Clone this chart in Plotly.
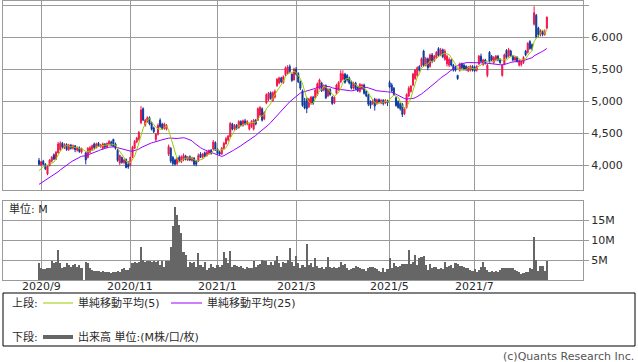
import plotly.graph_objects as go
import pandas as pd

# ---------------- data ----------------
# trading-day index 0..239 (2020/8/31 .. 2021/8/23); idx 21 = 2020/10/1 (no trading)
tick_idx = [1, 43, 84, 121, 165, 205]
tick_labels = ["2020/9", "2020/11", "2021/1", "2021/3", "2021/5", "2021/7"]

# closes before the visible window (only feed the moving averages)
pre_close = [3500, 3520, 3540, 3510, 3550, 3570, 3560, 3590, 3580, 3600, 3620,
             3650, 3680, 3720, 3700, 3760, 3790, 3800, 3830, 3820,
             3850, 3880, 3900, 3910]

ohlc = [
    (4070, 4110, 3990, 4010), (4000, 4060, 3980, 4050), (4060, 4080, 4000, 4010), (4010, 4030, 3920, 3940),
    (3860, 4000, 3840, 3990), (3990, 4090, 3980, 4080), (4060, 4140, 4040, 4120), (4160, 4180, 4080, 4090),
    (4090, 4220, 4080, 4200), (4190, 4360, 4180, 4330), (4240, 4370, 4220, 4340), (4340, 4360, 4250, 4280),
    (4270, 4340, 4250, 4320), (4320, 4340, 4220, 4240), (4240, 4330, 4220, 4310), (4310, 4330, 4240, 4260),
    (4260, 4320, 4240, 4300), (4300, 4310, 4200, 4240), (4230, 4290, 4210, 4270), (4270, 4290, 4190, 4210),
    (4200, 4270, 4180, 4260), (None, None, None, None), (4190, 4200, 4010, 4080), (4120, 4280, 4100, 4260),
    (4200, 4300, 4180, 4270), (4240, 4320, 4220, 4300), (4330, 4350, 4250, 4270), (4270, 4350, 4260, 4330),
    (4340, 4360, 4280, 4290), (4290, 4330, 4270, 4310), (4260, 4350, 4240, 4330), (4330, 4340, 4260, 4280),
    (4280, 4350, 4270, 4340), (4320, 4390, 4300, 4370), (4360, 4380, 4300, 4310), (4400, 4410, 4280, 4290),
    (4330, 4350, 4240, 4260), (4230, 4250, 4050, 4070), (4030, 4160, 4000, 4150), (4120, 4130, 4020, 4040),
    (4040, 4100, 4010, 4080), (4090, 4100, 3950, 3960), (4010, 4060, 3940, 3970), (3990, 4130, 3980, 4120),
    (4130, 4300, 4110, 4280), (4260, 4390, 4250, 4370), (4360, 4440, 4340, 4420), (4400, 4530, 4380, 4510),
    (4660, 4920, 4640, 4860), (4880, 4900, 4690, 4700), (4620, 4720, 4600, 4700), (4680, 4760, 4660, 4740),
    (4740, 4760, 4620, 4640), (4660, 4680, 4540, 4560), (4580, 4600, 4500, 4520), (4400, 4500, 4370, 4480),
    (4480, 4650, 4460, 4620), (4700, 4730, 4580, 4600), (4640, 4660, 4550, 4570), (4570, 4660, 4550, 4640),
    (4560, 4640, 4540, 4620), (4170, 4320, 4140, 4290), (4260, 4280, 4030, 4060), (4120, 4140, 3990, 4020),
    (4080, 4100, 3990, 4010), (4020, 4120, 4000, 4100), (4120, 4150, 4040, 4060), (4050, 4150, 4030, 4130),
    (4080, 4180, 4060, 4150), (4140, 4160, 4070, 4090), (4080, 4140, 4060, 4120), (4130, 4150, 4060, 4080),
    (4070, 4130, 4050, 4110), (4110, 4120, 3990, 4010), (4060, 4080, 3980, 4010), (4060, 4180, 4050, 4150),
    (4170, 4200, 4110, 4120), (4120, 4190, 4100, 4170), (4190, 4210, 4120, 4140), (4150, 4220, 4130, 4200),
    (4180, 4240, 4160, 4230), (4230, 4250, 4160, 4180), (4250, 4390, 4230, 4360), (4350, 4370, 4220, 4240),
    (4250, 4260, 4160, 4180), (4200, 4220, 4150, 4170), (4170, 4280, 4160, 4260), (4260, 4360, 4240, 4340),
    (4330, 4440, 4320, 4410), (4390, 4470, 4370, 4450), (4440, 4670, 4430, 4650), (4640, 4660, 4540, 4560),
    (4560, 4640, 4540, 4620), (4620, 4640, 4550, 4570), (4580, 4700, 4570, 4680), (4680, 4700, 4600, 4620),
    (4620, 4710, 4600, 4690), (4690, 4720, 4620, 4640), (4640, 4700, 4620, 4680), (4560, 4660, 4540, 4640),
    (4600, 4700, 4580, 4680), (4560, 4720, 4540, 4700), (4700, 4720, 4620, 4640), (4700, 4900, 4690, 4880),
    (4780, 4920, 4760, 4900), (4880, 4900, 4680, 4700), (4720, 4840, 4700, 4820), (4970, 5120, 4950, 5100),
    (5020, 5140, 5000, 5120), (5130, 5150, 5020, 5040), (5000, 5150, 4990, 5130), (5060, 5180, 5040, 5150),
    (5240, 5360, 5220, 5340), (5280, 5380, 5260, 5360), (5360, 5380, 5280, 5300), (5290, 5400, 5270, 5380),
    (5410, 5540, 5390, 5520), (5430, 5560, 5420, 5530), (5540, 5570, 5440, 5460), (5420, 5430, 5300, 5320),
    (5330, 5520, 5320, 5500), (5500, 5530, 5400, 5420), (5430, 5450, 5280, 5300), (5300, 5320, 5170, 5200),
    (5160, 5180, 4910, 4930), (4990, 5050, 4870, 4890), (5040, 5060, 4810, 4880), (4910, 5050, 4890, 5030),
    (4960, 5080, 4940, 5060), (5060, 5080, 4940, 4960), (5050, 5190, 5030, 5170), (5100, 5290, 5080, 5270),
    (5200, 5350, 5180, 5330), (5280, 5300, 5140, 5160), (5170, 5260, 5150, 5240), (5240, 5260, 5030, 5050),
    (5080, 5200, 5060, 5180), (5180, 5200, 5080, 5100), (5060, 5080, 4940, 4960), (4970, 5080, 4950, 5060),
    (5120, 5270, 5100, 5250), (5180, 5310, 5160, 5290), (5300, 5480, 5280, 5430), (5340, 5480, 5320, 5420),
    (5420, 5440, 5270, 5290), (5400, 5420, 5300, 5330), (5360, 5380, 5260, 5280), (5300, 5320, 5180, 5200),
    (5200, 5300, 5180, 5280), (5280, 5300, 5170, 5190), (5220, 5240, 5140, 5160), (5150, 5280, 5130, 5260),
    (5190, 5270, 5170, 5250), (5250, 5270, 5100, 5120), (5150, 5170, 5060, 5080), (5090, 5110, 4920, 4950),
    (4990, 5010, 4880, 4930), (4960, 5030, 4940, 5000), (5030, 5050, 4850, 4920), (4960, 5040, 4940, 5020),
    (5020, 5040, 4960, 4980), (4970, 5030, 4950, 5010), (5010, 5030, 4930, 4960), (4970, 5030, 4950, 5010),
    (5000, 5020, 4920, 4970), (5290, 5320, 5200, 5220), (5250, 5280, 5140, 5160), (5200, 5220, 5080, 5100),
    (5050, 5070, 4910, 4930), (4990, 5010, 4880, 4900), (4960, 4980, 4850, 4880), (4950, 4970, 4750, 4790),
    (4800, 4900, 4780, 4880), (4900, 5120, 4880, 5100), (5080, 5230, 5060, 5200), (5150, 5250, 5130, 5230),
    (5250, 5440, 5230, 5420), (5350, 5500, 5330, 5480), (5400, 5540, 5380, 5520), (5540, 5560, 5460, 5480),
    (5550, 5680, 5530, 5660), (5780, 5800, 5530, 5560), (5560, 5690, 5540, 5660), (5660, 5680, 5480, 5520),
    (5540, 5740, 5520, 5720), (5720, 5750, 5590, 5620), (5630, 5720, 5610, 5700), (5680, 5780, 5660, 5760),
    (5820, 5840, 5690, 5710), (5720, 5830, 5700, 5800), (5800, 5820, 5670, 5690), (5650, 5810, 5630, 5780),
    (5580, 5720, 5540, 5700), (5560, 5680, 5530, 5650), (5640, 5660, 5540, 5560), (5560, 5580, 5460, 5480),
    (5530, 5550, 5460, 5480), (5400, 5410, 5330, 5350), (5480, 5600, 5460, 5580), (5580, 5600, 5500, 5520),
    (5560, 5580, 5480, 5500), (5540, 5560, 5470, 5490), (5470, 5550, 5450, 5530), (5480, 5560, 5460, 5540),
    (5540, 5560, 5460, 5480), (5530, 5550, 5450, 5470), (5480, 5560, 5460, 5540), (5580, 5720, 5560, 5700),
    (5700, 5740, 5600, 5620), (5570, 5660, 5550, 5640), (5640, 5660, 5570, 5590), (5400, 5580, 5370, 5560),
    (5760, 5780, 5600, 5620), (5700, 5720, 5620, 5640), (5600, 5700, 5580, 5680), (5640, 5720, 5620, 5700),
    (5700, 5720, 5620, 5640), (5650, 5670, 5580, 5600), (5400, 5580, 5380, 5560), (5580, 5740, 5560, 5720),
    (5790, 5810, 5660, 5680), (5700, 5830, 5680, 5800), (5780, 5800, 5690, 5710), (5700, 5720, 5620, 5640),
    (5640, 5700, 5620, 5680), (5680, 5700, 5600, 5620), (5560, 5650, 5540, 5630), (5570, 5640, 5540, 5620),
    (5600, 5700, 5580, 5680), (5780, 5800, 5700, 5720), (5760, 5920, 5740, 5900), (5930, 5950, 5800, 5820),
    (5880, 5900, 5790, 5820), (6200, 6480, 6180, 6380), (6340, 6360, 5980, 6000), (6140, 6160, 6000, 6040),
    (6040, 6120, 6010, 6100), (6090, 6110, 6010, 6040), (6040, 6120, 6020, 6080), (6140, 6320, 6120, 6310),
]
open_ = [r[0] for r in ohlc]
high = [r[1] for r in ohlc]
low = [r[2] for r in ohlc]
close = [r[3] for r in ohlc]

# volume (millions)
volume = [
    4.3, 2.9, 2.8, 2.75, 2.9, 2.9, 4.75, 4.2, 4.6, 7.5, 4.2, 2.9, 3.3, 4.2, 3.75, 3.3, 3.75, 4.0, 3.3, 3.75,
    2.9, None, 4.5, 4.3, 2.9, 2.5, 2.3, 2.3, 2.2, 2.1, 2.25, 2.1, 2.0, 1.9, 1.8, 1.9, 2.0, 2.2, 2.1, 2.7,
    2.9, 2.5, 2.5, 2.9, 4.2, 4.6, 4.2, 4.6, 8.2, 5.0, 4.6, 4.75, 4.75, 4.6, 4.75, 4.6, 4.75, 3.75, 4.75, 3.3,
    4.8, 4.8, 8.3, 13.5, 18.3, 16.25, 13.75, 11.7, 7.1, 6.25, 3.3, 4.6, 4.2, 4.6, 3.3, 6.8, 3.75, 3.3, 4.6, 2.5,
    2.9, 3.9, 3.3, 2.9, 3.75, 3.3, 3.75, 6.9, 5.4, 4.2, 7.25, 3.3, 3.75, 3.6, 3.3, 3.5, 2.9, 2.7, 3.3, 2.9,
    2.9, 4.75, 3.3, 3.75, 3.9, 5.0, 4.75, 4.75, 3.75, 4.6, 3.75, 4.8, 6.0, 4.2, 3.3, 4.6, 4.2, 5.0, 7.9, 4.6,
    3.5, 6.1, 4.2, 3.1, 3.75, 3.3, 9.0, 3.75, 4.2, 3.3, 5.4, 3.6, 3.1, 3.3, 2.7, 3.3, 5.7, 3.3, 3.1, 3.3,
    2.9, 3.3, 4.4, 3.75, 3.9, 2.9, 2.5, 2.7, 2.9, 3.5, 3.3, 2.9, 2.75, 2.7, 2.25, 3.1, 3.2, 3.3, 3.1, 2.75,
    2.25, 2.1, 2.9, 2.1, 2.75, 5.6, 2.9, 4.2, 3.6, 3.3, 3.5, 3.9, 4.0, 3.9, 7.5, 3.9, 4.6, 6.25, 3.75, 5.4,
    5.8, 6.0, 3.75, 2.5, 3.9, 2.9, 3.2, 3.3, 2.75, 3.1, 2.7, 4.4, 3.3, 3.6, 3.75, 3.1, 4.2, 3.9, 3.6, 3.4,
    3.3, 3.1, 2.9, 2.5, 2.25, 2.75, 2.1, 2.5, 3.3, 4.6, 3.3, 2.5, 2.1, 2.25, 1.9, 2.25, 2.1, 2.5, 2.9, 3.0,
    3.1, 3.1, 3.1, 2.9, 2.5, 2.25, 1.9, 1.5, 1.7, 2.1, 2.1, 2.9, 2.75, 10.7, 5.0, 2.25, 3.6, 3.6, 2.25, 4.75,
]

price_ticks = [4000, 4500, 5000, 5500, 6000, 6500]
vol_ticks = [5, 10, 15]

# ---------------- derived ----------------
n = len(close)
idx = list(range(n))
s = pd.Series(pre_close + close, dtype=float)
valid = s.dropna()
ma5 = valid.rolling(5).mean().reindex(s.index).iloc[-n:].tolist()
ma25 = valid.rolling(25).mean().reindex(s.index).iloc[-n:].tolist()

RED = "#f2164a"
BLUE = "#0b3a9c"
GREEN = "#99cc00"
PURPLE = "#9900ff"
GRID = "#9a9a9a"
TXT = "#2a2a2a"
FONT = "DejaVu Sans, Noto Sans CJK JP, sans-serif"

W, H = 638, 362
def px(x):
    return x / W
def py(y):
    return 1 - y / H

fig = go.Figure()
fig.add_trace(go.Candlestick(
    x=idx, open=open_, high=high, low=low, close=close,
    increasing=dict(line=dict(color=RED, width=1), fillcolor=RED),
    decreasing=dict(line=dict(color=BLUE, width=1), fillcolor=BLUE),
    whiskerwidth=0, xaxis="x", yaxis="y", showlegend=False))
fig.add_trace(go.Scatter(x=idx, y=ma25, mode="lines", line=dict(color=PURPLE, width=1),
                         connectgaps=True, xaxis="x", yaxis="y", showlegend=False))
fig.add_trace(go.Scatter(x=idx, y=ma5, mode="lines", line=dict(color=GREEN, width=1),
                         connectgaps=True, xaxis="x", yaxis="y", showlegend=False))
fig.add_trace(go.Bar(x=idx, y=volume, marker=dict(color="#666666", line=dict(width=0)),
                     xaxis="x2", yaxis="y2", showlegend=False))

xr = [-16.94, 256.0]
common_x = dict(range=xr, tickvals=tick_idx, showgrid=True, gridcolor=GRID, gridwidth=1,
                showline=True, mirror=True, linecolor=GRID, linewidth=1, zeroline=False,
                ticks="", domain=[px(3), px(583)], fixedrange=True, showticklabels=False)
fig.update_layout(
    width=W, height=H, margin=dict(l=0, r=0, t=0, b=0),
    paper_bgcolor="white", plot_bgcolor="white",
    font=dict(family=FONT, size=11, color=TXT),
    bargap=0, showlegend=False,
    xaxis=dict(**common_x, anchor="y", rangeslider=dict(visible=False)),
    xaxis2=dict(**common_x, anchor="y2"),
    yaxis=dict(domain=[py(190), py(1)], range=[3609.4, 6562.5], side="right",
               tickvals=price_ticks, ticktext=[f"{v:,}" for v in price_ticks],
               showgrid=True, gridcolor=GRID, gridwidth=1, ticks="outside", ticklen=5,
               tickcolor=GRID, showline=True, mirror=True, linecolor=GRID, zeroline=False,
               fixedrange=True),
    yaxis2=dict(domain=[py(280), py(201)], range=[0, 19.75], side="right",
                tickvals=vol_ticks, ticktext=[f"{v}M" for v in vol_ticks],
                showgrid=True, gridcolor=GRID, gridwidth=1, ticks="outside", ticklen=5,
                tickcolor=GRID, showline=True, mirror=True, linecolor=GRID, zeroline=False,
                fixedrange=True),
)

shapes = [
    dict(type="rect", xref="paper", yref="paper", x0=px(3), x1=px(635), y0=py(346), y1=py(293),
         line=dict(color="black", width=1), fillcolor="rgba(0,0,0,0)"),
    dict(type="line", xref="paper", yref="paper", x0=px(43), x1=px(73), y0=py(303), y1=py(303),
         line=dict(color=GREEN, width=1)),
    dict(type="line", xref="paper", yref="paper", x0=px(171), x1=px(202), y0=py(303), y1=py(303),
         line=dict(color=PURPLE, width=1)),
    dict(type="line", xref="paper", yref="paper", x0=px(43), x1=px(73), y0=py(337), y1=py(337),
         line=dict(color="#666666", width=4)),
]
fig.update_layout(shapes=shapes)

def txt(x, y, t, anchor="left", size=11, color=TXT):
    return dict(x=px(x), y=py(y), xref="paper", yref="paper", text=t, showarrow=False,
                xanchor=anchor, yanchor="middle", font=dict(size=size, color=color, family=FONT))

annos = [
    txt(7, 209, "単位: M"),
    txt(10, 303, "上段:"),
    txt(76, 303, "単純移動平均(5)"),
    txt(205, 303, "単純移動平均(25)"),
    txt(10, 337, "下段:"),
    txt(76, 337, "出来高 単位:(M株/口/枚)"),
    txt(636, 356, "(c)Quants Research Inc.", anchor="right", color="#555555"),
]
# month labels under the volume panel, placed on the volume x scale
for ti, tl in zip(tick_idx, tick_labels):
    annos.append(dict(x=ti, xref="x2", y=py(286), yref="paper", text=tl, showarrow=False,
                      xanchor="center", yanchor="middle",
                      font=dict(size=11, color=TXT, family=FONT)))
fig.update_layout(annotations=annos)

fig.write_html("out.html", config=dict(displayModeBar=False),
               post_script="document.body.style.margin='0';")
